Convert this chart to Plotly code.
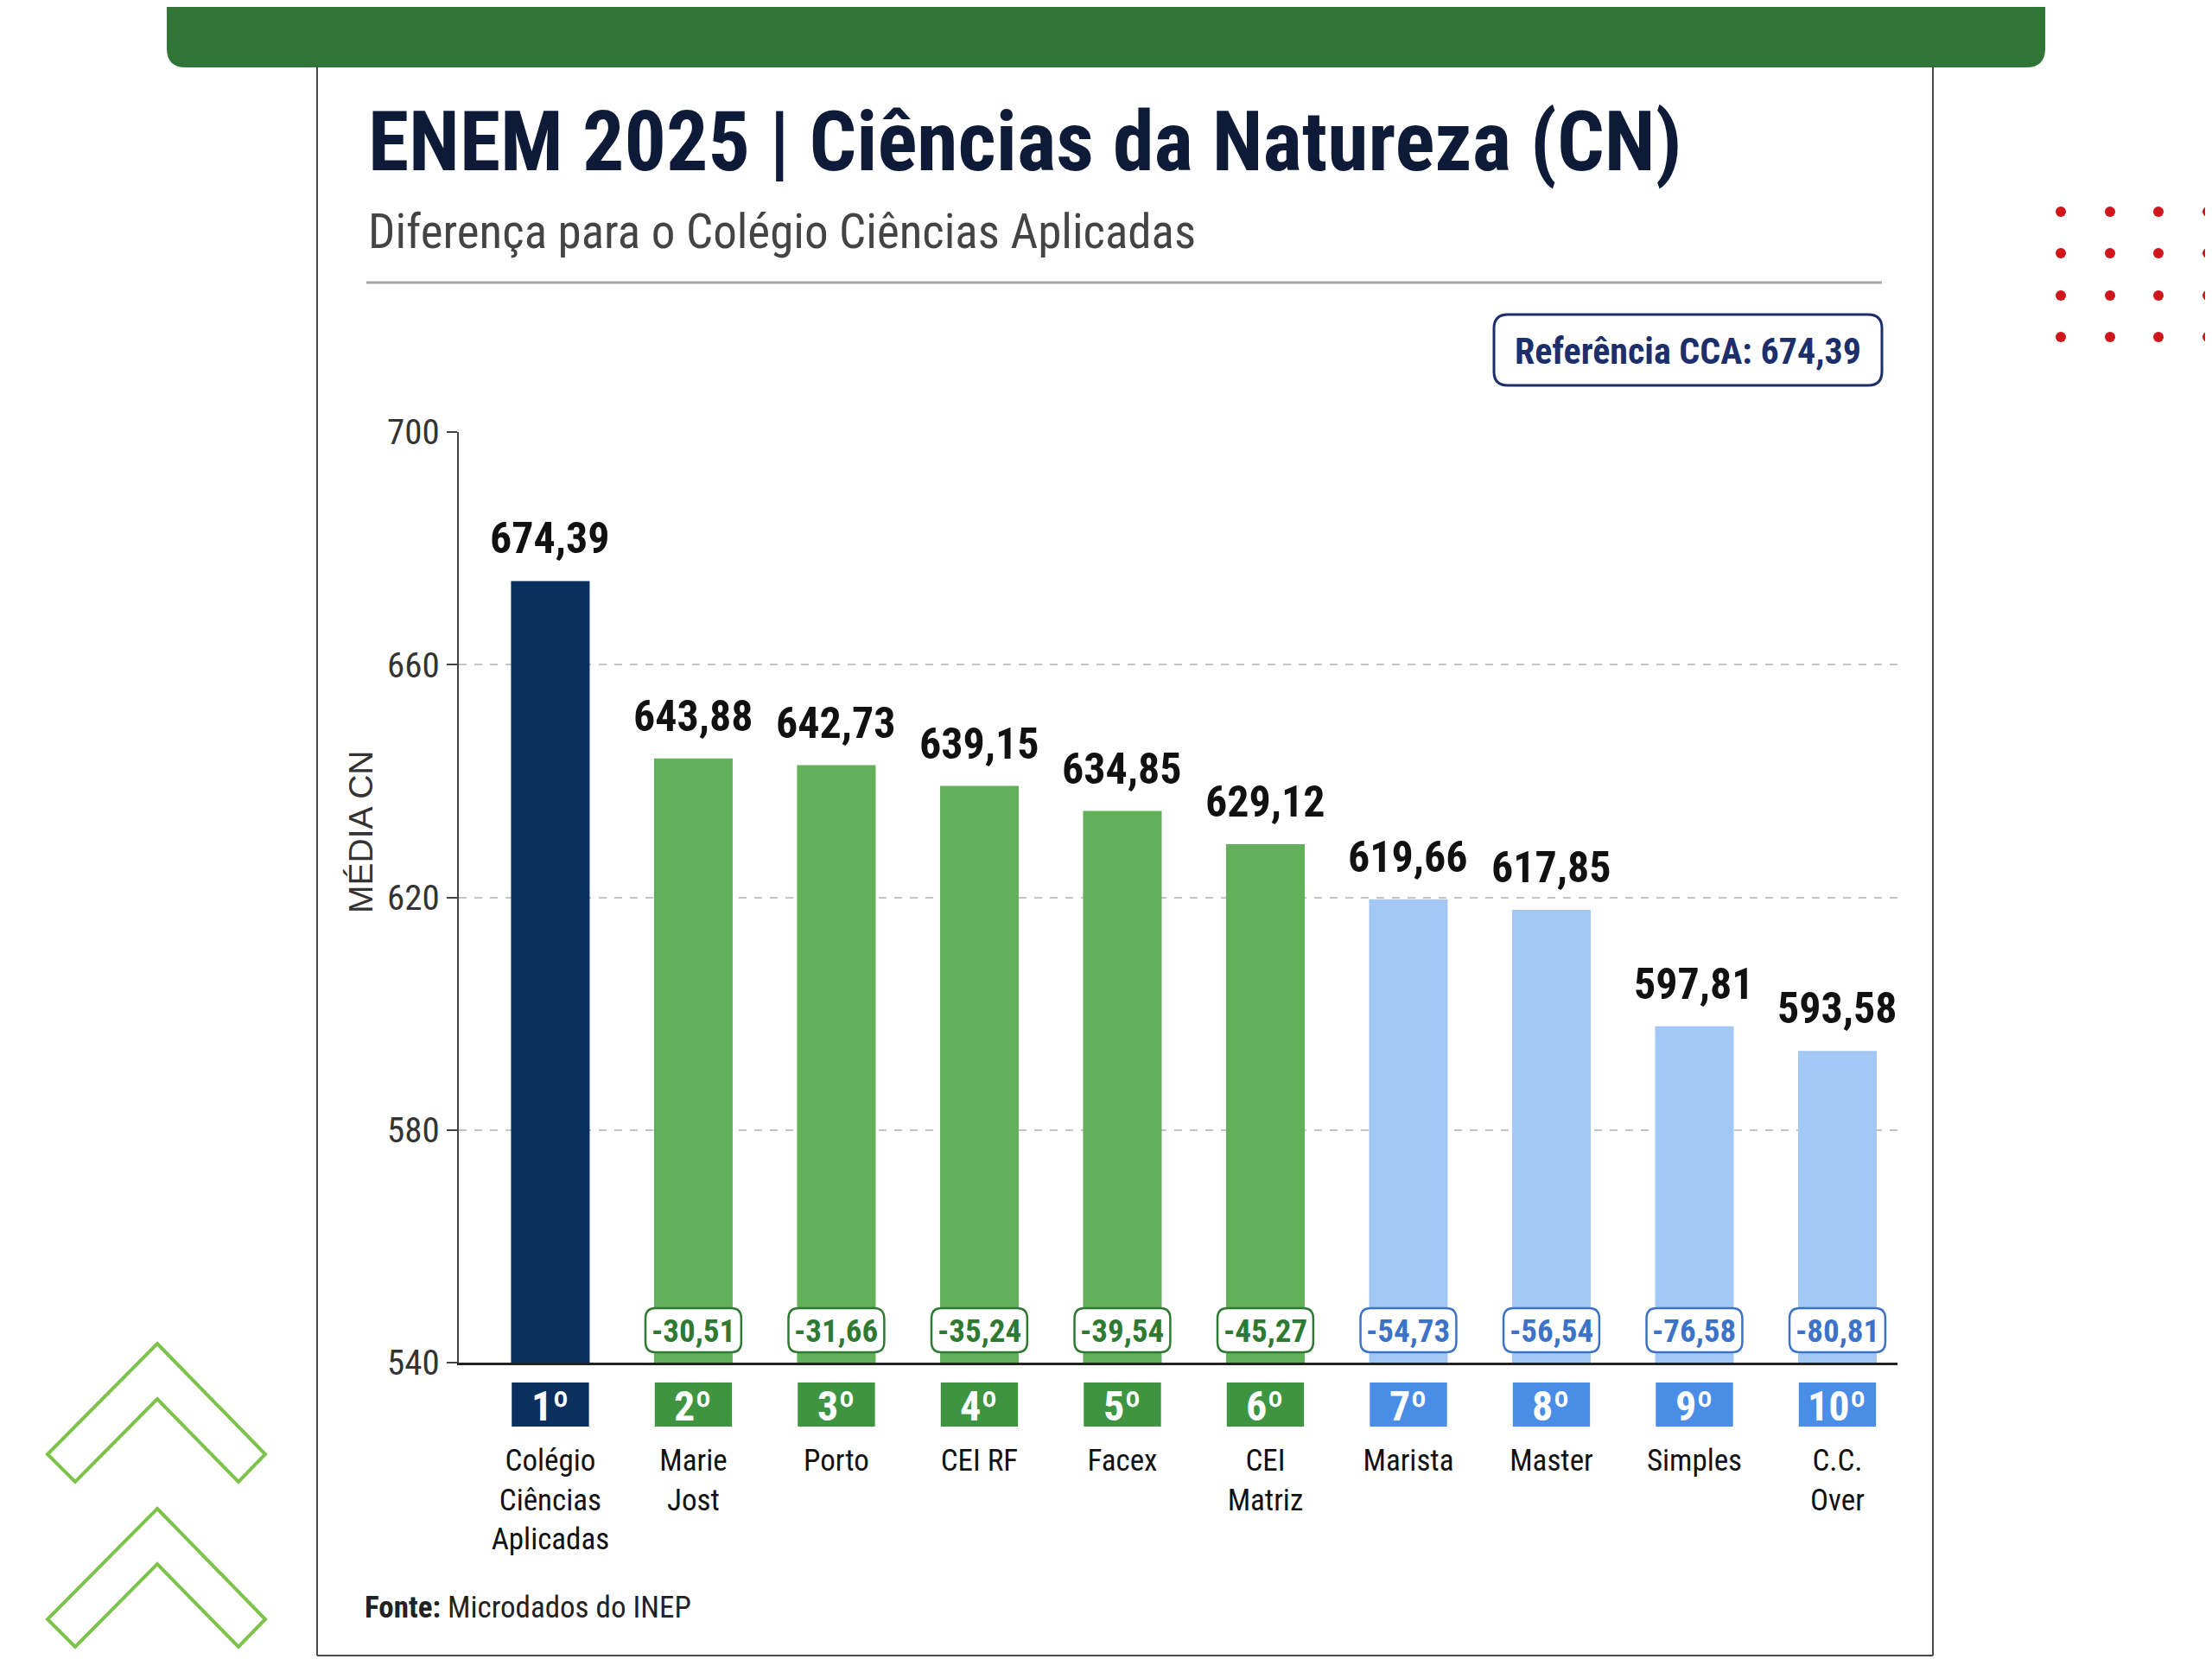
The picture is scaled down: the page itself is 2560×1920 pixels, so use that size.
import plotly.graph_objects as go

# dados
schools = ["Colégio<br>Ciências<br>Aplicadas", "Marie<br>Jost", "Porto", "CEI RF", "Facex",
           "CEI<br>Matriz", "Marista", "Master", "Simples", "C.C.<br>Over"]
scores = [674.39, 643.88, 642.73, 639.15, 634.85, 629.12, 619.66, 617.85, 597.81, 593.58]
diffs = [None, -30.51, -31.66, -35.24, -39.54, -45.27, -54.73, -56.54, -76.58, -80.81]
ranks = ["1º", "2º", "3º", "4º", "5º", "6º", "7º", "8º", "9º", "10º"]
tiers = ["ref", "top", "top", "top", "top", "top", "mid", "mid", "mid", "mid"]
y_ticks = [540, 580, 620, 660, 700]
reference = 674.39

W, H = 2560, 1920
OFF = 8  # margem padrão do <body> na página
NARROW = "Liberation Sans Narrow, Arial Narrow, Roboto Condensed, sans-serif"

bar_col = {"ref": "#0b2f5f", "top": "#62b05a", "mid": "#a4c8f6"}
badge_col = {"ref": "#0b2f5f", "top": "#3e9440", "mid": "#4a8de6"}
diff_col = {"ref": "#0b2f5f", "top": "#2f7a33", "mid": "#3c73c8"}


def px(x):
    return (x - OFF) / W


def py(y):
    return 1 - (y - OFF) / H


def rounded(x0, y0, x1, y1, rx, ry):
    # caminho de retângulo arredondado (y0 < y1 em coordenadas do papel)
    return (f"M {x0 + rx} {y0} L {x1 - rx} {y0} Q {x1} {y0} {x1} {y0 + ry} "
            f"L {x1} {y1 - ry} Q {x1} {y1} {x1 - rx} {y1} L {x0 + rx} {y1} "
            f"Q {x0} {y1} {x0} {y1 - ry} L {x0} {y0 + ry} Q {x0} {y0} {x0 + rx} {y0} Z")


x_idx = list(range(len(scores)))

fig = go.Figure()
fig.add_trace(go.Bar(
    x=x_idx, y=scores, width=0.55,
    marker=dict(color=[bar_col[t] for t in tiers], line=dict(width=0)),
    hoverinfo="skip",
))

shapes = []
annotations = []

# faixa verde do topo
shapes.append(dict(type="path", xref="paper", yref="paper", line=dict(width=0), fillcolor="#2f7636",
                   path=rounded(px(193), py(78), px(2367), py(-40), 22 / W, 22 / H)))
# cartão
for x0, y0, x1, y1 in [(367, 77, 367, 1916), (2237, 77, 2237, 1916), (367, 1916, 2237, 1916)]:
    shapes.append(dict(type="line", xref="paper", yref="paper", x0=px(x0), y0=py(y0), x1=px(x1), y1=py(y1),
                       line=dict(color="#4a4a4a", width=2)))
# linha separadora
shapes.append(dict(type="line", xref="paper", yref="paper", x0=px(424), y0=py(327), x1=px(2178), y1=py(327),
                   line=dict(color="#a8a8a8", width=3)))
# caixa de referência
shapes.append(dict(type="path", xref="paper", yref="paper", fillcolor="white",
                   line=dict(color="#1c2f6a", width=3),
                   path=rounded(px(1729), py(446), px(2178), py(364), 16 / W, 16 / H)))

# pontos vermelhos
for cx in [2385, 2442, 2498, 2555]:
    for cy in [245, 293, 342, 390]:
        shapes.append(dict(type="circle", xref="paper", yref="paper", fillcolor="#d0161b", line=dict(width=0),
                           x0=px(cx - 6), x1=px(cx + 6), y0=py(cy + 6), y1=py(cy - 6)))

# chevrons verdes
for dy in [0, 191]:
    pts = [(182, 1555), (307, 1683), (276, 1715), (182, 1619), (87, 1715), (55, 1683)]
    path = "M " + " L ".join(f"{px(x)} {py(y + dy)}" for x, y in pts) + " Z"
    shapes.append(dict(type="path", xref="paper", yref="paper", path=path,
                       line=dict(color="#7dc24b", width=4)))

# badges de posição e diferenças
for i, (rk, t, d) in enumerate(zip(ranks, tiers, diffs)):
    shapes.append(dict(type="rect", xref="x", yref="paper", x0=i - 0.27, x1=i + 0.27,
                       y0=py(1651), y1=py(1600), fillcolor=badge_col[t], line=dict(width=0)))
    annotations.append(dict(x=i, y=py(1627), xref="x", yref="paper", text=f"<b>{rk}</b>", showarrow=False,
                            font=dict(family=NARROW, size=48, color="white"), yanchor="middle"))
    if d is not None:
        shapes.append(dict(type="path", xref="x", yref="paper", fillcolor="white",
                           line=dict(color=diff_col[t], width=2.5),
                           path=rounded(i - 0.335, py(1565), i + 0.335, py(1514), 0.07, 12 / H)))
        annotations.append(dict(x=i, y=py(1540), xref="x", yref="paper",
                                text=f"<b>{d:.2f}</b>".replace(".", ","), showarrow=False,
                                font=dict(family=NARROW, size=37, color=diff_col[t]), yanchor="middle"))

# rótulos de valor
for i, s in enumerate(scores):
    annotations.append(dict(x=i, y=s, xref="x", yref="y", text=f"<b>{s:.2f}</b>".replace(".", ","),
                            showarrow=False, yanchor="bottom", yshift=18,
                            font=dict(family=NARROW, size=50, color="#111111")))

# títulos e textos
annotations += [
    dict(x=px(424), y=py(164), xref="paper", yref="paper", xanchor="left", yanchor="middle", showarrow=False,
         text="<b>ENEM 2025 | Ciências da Natureza (CN)</b>", font=dict(family=NARROW, size=96, color="#0d1a38")),
    dict(x=px(424), y=py(268), xref="paper", yref="paper", xanchor="left", yanchor="middle", showarrow=False,
         text="Diferença para o Colégio Ciências Aplicadas", font=dict(family=NARROW, size=55, color="#444444")),
    dict(x=px(1953), y=py(406), xref="paper", yref="paper", xanchor="center", yanchor="middle", showarrow=False,
         text=f"<b>Referência CCA: {reference:.2f}</b>".replace(".", ","),
         font=dict(family=NARROW, size=42, color="#1c2f6a")),
    dict(x=px(418), y=py(963), xref="paper", yref="paper", xanchor="center", yanchor="middle", showarrow=False,
         text="MÉDIA CN", textangle=-90, font=dict(family="Liberation Sans, sans-serif", size=39, color="#333333")),
    dict(x=px(420), y=py(1860), xref="paper", yref="paper", xanchor="left", yanchor="middle", showarrow=False,
         text="<b>Fonte:</b> Microdados do INEP", font=dict(family=NARROW, size=35, color="#222222")),
]

fig.update_layout(
    width=W, height=H,
    margin=dict(l=0, r=0, t=0, b=0, pad=0),
    paper_bgcolor="white", plot_bgcolor="white",
    showlegend=False,
    separators=",.",
    shapes=shapes,
    annotations=annotations,
    xaxis=dict(domain=[px(531), px(2196)], range=[-0.64, 9.42], automargin=False,
               tickvals=x_idx, ticktext=schools, ticks="", ticklabelstandoff=80,
               tickfont=dict(family=NARROW, size=35, color="#111111"),
               showline=True, linecolor="#222222", linewidth=3, showgrid=False, zeroline=False),
    yaxis=dict(domain=[py(1577), py(500)], range=[540, 700], tickvals=y_ticks, automargin=False,
               showgrid=True, gridcolor="#c4c4c4", gridwidth=2, griddash="dash",
               showline=True, linecolor="#444444", linewidth=2,
               ticks="outside", ticklen=12, tickcolor="#444444", tickwidth=2,
               tickfont=dict(family=NARROW, size=41, color="#333333"), zeroline=False),
)

fig.write_html("out.html")
